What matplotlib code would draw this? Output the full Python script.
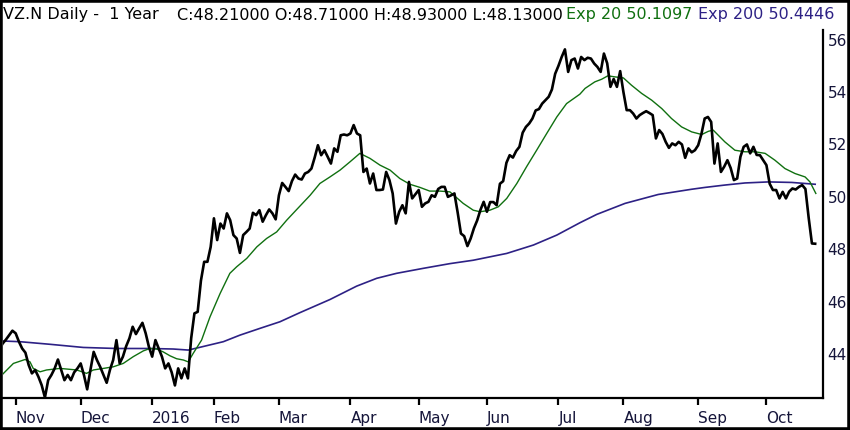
import matplotlib
matplotlib.use('Agg')
import matplotlib.pyplot as plt
from matplotlib.patches import Rectangle

# ---- data (trading-day index, 0 = 2 Nov 2015) ----
start_day = -5
close = [
    44.18, 44.40, 44.55, 44.72, 44.89,                     # -5..-1
    44.79, 44.47, 44.21, 44.05, 43.58, 43.26, 43.39, 43.13, 42.81, 42.34,   # 0..9
    43.00, 43.20, 43.45, 43.79, 43.39, 43.00, 43.20, 43.00, 43.30, 43.45,   # 10..19
    43.64, 43.20, 42.65, 43.39, 44.08, 43.77, 43.51, 43.20, 42.90, 43.39,   # 20..29
    43.77, 44.53, 43.64, 43.90, 44.30, 44.60, 45.04, 44.76, 44.98, 45.19,   # 30..39
    44.79, 44.27, 43.90, 44.53, 44.21, 43.90, 43.45, 43.64, 43.30, 42.80,   # 40..49
    43.45, 43.07, 43.45, 43.07, 44.60, 45.55, 45.61, 46.80, 47.52, 47.52,   # 50..59
    48.09, 49.18, 48.35, 48.98, 48.79, 49.37, 49.11, 48.54, 48.41, 47.86,   # 60..69
    48.54, 48.66, 48.79, 49.39, 49.30, 49.49, 49.05, 49.30, 49.52, 49.37,   # 70..79
    49.14, 50.06, 50.53, 50.38, 50.22, 50.60, 50.85, 50.70, 50.66, 50.89,   # 80..89
    50.95, 51.08, 51.50, 51.97, 51.59, 51.78, 51.53, 51.27, 51.85, 51.72,   # 90..99
    52.35, 52.38, 52.35, 52.42, 52.74, 52.42, 52.35, 50.95, 51.08, 50.51,   # 100..109
    50.89, 50.26, 50.26, 50.28, 50.95, 50.64, 50.13, 48.98, 49.43, 49.68,   # 110..119
    49.37, 50.57, 49.94, 50.10, 50.26, 49.62, 49.75, 49.81, 50.06, 50.00,   # 120..129
    50.30, 50.38, 50.38, 50.00, 50.06, 50.13, 49.40, 48.60, 48.50, 48.12,   # 130..139
    48.41, 48.80, 49.10, 49.50, 49.81, 49.43, 49.80, 49.80, 49.68, 50.50,   # 140..149
    50.60, 51.30, 51.59, 51.50, 51.75, 51.91, 52.45, 52.67, 52.80, 52.99,   # 150..159
    53.30, 53.35, 53.56, 53.69, 53.82, 54.10, 54.70, 55.00, 55.34, 55.63,   # 160..169
    54.77, 55.22, 55.28, 54.90, 55.34, 55.22, 55.31, 55.28, 55.09, 54.96,   # 170..179
    54.77, 55.47, 55.10, 54.20, 54.50, 54.20, 54.80, 54.00, 53.31, 53.31,   # 180..189
    53.18, 52.99, 53.12, 53.20, 53.27, 53.20, 53.12, 52.23, 52.55, 52.40,   # 190..199
    52.10, 51.87, 52.04, 51.97, 52.10, 52.00, 51.49, 51.85, 51.70, 51.78,   # 200..209
    51.97, 52.40, 52.99, 53.05, 52.86, 51.27, 52.04, 50.95, 51.15, 51.40,   # 210..219
    51.10, 50.64, 50.70, 51.53, 51.91, 52.00, 51.66, 51.91, 51.60, 51.59,   # 220..229
    51.40, 51.21, 50.50, 50.26, 50.26, 49.94, 50.19, 49.94, 50.20, 50.32,   # 230..239
    50.28, 50.38, 50.45, 50.30, 49.20, 48.22, 48.21,                       # 240..246
]
days = list(range(start_day, start_day + len(close)))

ema20_days = [-4.8, -0.7, 2.9, 4.4, 5.4, 7.5, 9.5, 13.6, 18.8, 21.8, 23.9, 27.0,
              30.0, 33.1, 36.2, 39.3, 41.3, 43.4, 45.4, 47.5, 49.5, 51.6, 53.1,
              54.6, 57.2, 59.8, 62.9, 65.9, 68.0, 71.1, 74.2, 77.2, 80.3, 83.4,
              86.5, 90.6, 93.6, 96.7, 99.8, 102.9, 105.9, 109.0, 112.1, 115.2,
              118.2, 121.3, 124.4, 127.4, 130.5, 133.6, 137.7, 140.8, 142.9,
              145.9, 148.5, 151.1, 154.2, 157.2, 160.3, 163.4, 166.5, 169.5,
              173.6, 175.2, 178.2, 180.3, 182.2, 184.4, 187.0, 189.5, 192.6,
              195.7, 198.8, 201.8, 204.9, 208.0, 211.1, 213.1, 214.6, 216.2,
              218.2, 221.3, 224.4, 227.5, 230.6, 233.6, 236.7, 239.8, 242.9,
              244.4, 246.2]
ema20 = [43.13, 43.64, 43.79, 43.70, 43.45, 43.32, 43.39, 43.45, 43.39, 43.26,
         43.39, 43.45, 43.51, 43.64, 43.90, 44.12, 44.21, 44.19, 44.08, 43.93,
         43.82, 43.77, 43.70, 44.02, 44.53, 45.42, 46.31, 47.08, 47.33, 47.65,
         48.09, 48.41, 48.66, 49.11, 49.52, 50.06, 50.51, 50.76, 51.02, 51.34,
         51.66, 51.47, 51.21, 51.02, 50.70, 50.48, 50.36, 50.22, 50.22, 50.19,
         49.75, 49.49, 49.43, 49.49, 49.62, 49.94, 50.51, 51.15, 51.78, 52.42,
         53.05, 53.56, 53.92, 54.14, 54.39, 54.49, 54.62, 54.58, 54.54, 54.26,
         53.95, 53.69, 53.37, 52.99, 52.67, 52.48, 52.38, 52.50, 52.55, 52.35,
         52.10, 51.78, 51.72, 51.72, 51.66, 51.40, 51.08, 50.89, 50.76, 50.57,
         50.13]

ema200_days = [-4.8, 1.3, 10.6, 20.8, 31.1, 41.3, 48.5, 53.1, 56.5, 63.9, 69.0,
               75.2, 81.3, 87.3, 96.7, 104.9, 111.1, 117.2, 125.4, 133.6, 140.8,
               151.1, 159.3, 166.5, 173.6, 178.8, 187.5, 197.7, 208.0, 212.1,
               218.2, 224.4, 231.6, 238.8, 246.0]
ema200 = [44.50, 44.47, 44.37, 44.25, 44.21, 44.21, 44.19, 44.15, 44.25, 44.47,
          44.72, 44.98, 45.23, 45.57, 46.08, 46.59, 46.89, 47.08, 47.27, 47.45,
          47.58, 47.84, 48.16, 48.54, 49.01, 49.33, 49.75, 50.09, 50.29, 50.36,
          50.45, 50.53, 50.57, 50.55, 50.48]

month_ticks = [0, 20, 42, 61, 81, 103, 124, 145, 167, 187, 210, 231]
month_labels = ['Nov', 'Dec', '2016', 'Feb', 'Mar', 'Apr', 'May', 'Jun',
                'Jul', 'Aug', 'Sep', 'Oct']
y_ticks = [44, 46, 48, 50, 52, 54, 56]

header_main = 'VZ.N Daily -  1 Year'
header_ohlc = 'C:48.21000 O:48.71000 H:48.93000 L:48.13000'
header_ema20 = 'Exp 20 50.1097'
header_ema200 = 'Exp 200 50.4446'

# ---- figure ----
W, H = 850, 430
fig = plt.figure(figsize=(W / 100, H / 100), dpi=100)
fig.patch.set_facecolor('white')
ax = fig.add_axes([3 / W, 32 / H, 820.3 / W, 368 / H])

green = '#107010'
navy = '#2d2185'
label_col = '#15153a'

ax.plot(ema200_days, ema200, color=navy, lw=1.2, solid_joinstyle='round')
ax.plot(ema20_days, ema20, color=green, lw=1.0, solid_joinstyle='round')
ax.plot(days, close, color='black', lw=1.9, solid_joinstyle='round')

ax.set_xlim(-3.9, 248.5)
ax.set_ylim(42.32, 56.37)
for s in ['left', 'top']:
    ax.spines[s].set_visible(False)
for s in ['right', 'bottom']:
    ax.spines[s].set_linewidth(1.6)

ax.yaxis.tick_right()
ax.set_yticks(y_ticks)
ax.set_yticklabels([str(v) for v in y_ticks])
ax.tick_params(axis='y', length=0, pad=3, labelsize=11, labelcolor=label_col)

ax.set_xticks(month_ticks)
ax.set_xticklabels(month_labels, ha='left')
ax.tick_params(axis='x', length=5, width=1.6, pad=4.5, labelsize=11,
               labelcolor=label_col, direction='out')

ty = 1 - 15 / H
hs = 11.5
fig.text(3 / W, ty, header_main, fontsize=hs, color='black', va='center')
fig.text(177 / W, ty, header_ohlc, fontsize=hs, color='black', va='center')
fig.text(566 / W, ty, header_ema20, fontsize=hs, color=green, va='center')
fig.text(698 / W, ty, header_ema200, fontsize=hs, color=navy, va='center')

fig.patches.append(Rectangle((0, 0), 1, 1, transform=fig.transFigure,
                             fill=False, edgecolor='black', lw=4))

fig.savefig('out.png', dpi=100)
